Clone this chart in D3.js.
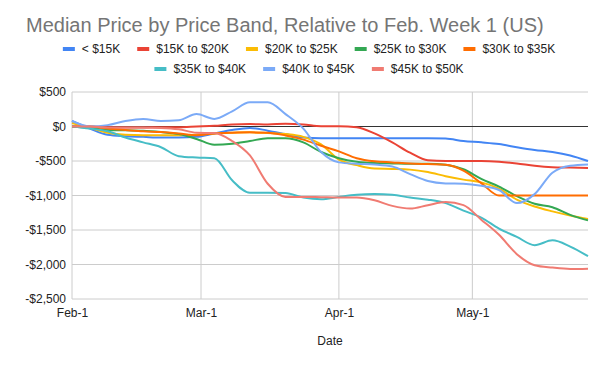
<!DOCTYPE html>
<html>
<head>
<meta charset="utf-8">
<script src="https://cdn.jsdelivr.net/npm/d3@7"></script>
<style>
  body { margin: 0; background: #fff; }
  text { font-family: Arial, "Liberation Sans", sans-serif; }
</style>
</head>
<body>
<svg id="drawing_region"></svg>
<script>
// dates every 4 days, Feb 1 .. May 27 (2020)
const dates = ["2020-02-01","2020-02-05","2020-02-09","2020-02-13","2020-02-17","2020-02-21","2020-02-25","2020-02-29",
  "2020-03-04","2020-03-08","2020-03-12","2020-03-16","2020-03-20","2020-03-24","2020-03-28",
  "2020-04-01","2020-04-05","2020-04-09","2020-04-13","2020-04-17","2020-04-21","2020-04-25","2020-04-29",
  "2020-05-03","2020-05-07","2020-05-11","2020-05-15","2020-05-19","2020-05-23","2020-05-27"];

const bands = ["< $15K","$15K to $20K","$20K to $25K","$25K to $30K","$30K to $35K","$35K to $40K","$40K to $45K","$45K to $50K"];
const colors = ["#4285F4","#EA4335","#FBBC04","#34A853","#FF6D01","#46BDC6","#7BAAF7","#F07B72"];

const under15 = [80,-30,-120,-140,-150,-160,-160,-150,-100,-50,-20,-60,-110,-160,-170,-170,-170,-170,-170,-170,-170,-175,-210,-230,-255,-300,-340,-370,-420,-500];
const b15to20 = [0,0,-10,-15,-15,-10,-10,0,10,30,35,30,40,30,5,5,-10,-100,-230,-380,-490,-500,-500,-500,-510,-535,-570,-590,-595,-600];
const b20to25 = [50,-20,-90,-120,-125,-125,-125,-120,-100,-90,-85,-95,-110,-150,-260,-480,-560,-610,-615,-625,-660,-720,-770,-810,-900,-1060,-1160,-1230,-1290,-1340];
const b25to30 = [0,-20,-50,-55,-60,-80,-110,-180,-265,-250,-210,-170,-170,-230,-370,-460,-510,-530,-535,-540,-540,-555,-620,-760,-870,-1010,-1120,-1170,-1280,-1360];
const b30to35 = [0,0,-30,-50,-70,-80,-100,-125,-100,-90,-85,-90,-130,-190,-280,-360,-460,-505,-520,-535,-545,-555,-640,-820,-1000,-1000,-1000,-1000,-1000,-1000];
const b35to40 = [0,-30,-70,-160,-230,-300,-430,-450,-460,-780,-960,-960,-965,-1030,-1055,-1020,-990,-980,-990,-1030,-1060,-1110,-1220,-1320,-1480,-1600,-1720,-1650,-1740,-1880];
const b40to45 = [80,0,20,80,110,80,90,180,110,220,350,350,180,-30,-370,-520,-540,-550,-580,-690,-790,-825,-830,-860,-920,-1110,-980,-670,-570,-550];
const b45to50 = [0,0,-15,-15,-15,-20,-40,-90,-95,-210,-420,-830,-1020,-1020,-1025,-1030,-1030,-1070,-1150,-1190,-1140,-1095,-1140,-1350,-1570,-1850,-2010,-2045,-2065,-2060];

const yticks = [500,0,-500,-1000,-1500,-2000,-2500];

const series = [under15,b15to20,b20to25,b25to30,b30to35,b35to40,b40to45,b45to50];

class LineChart {
    constructor( config ) {
        this.config = config;
        this.init();
    }
    init() {
        let self = this;
        self.svg = d3.select( self.config.parent )
            .attr('width', self.config.width)
            .attr('height', self.config.height);

        self.chart = self.svg.append('g')
            .attr('transform', `translate(${self.config.margin.left}, ${self.config.margin.top})`);

        self.inner_width = self.config.width - self.config.margin.left - self.config.margin.right;
        self.inner_height = self.config.height - self.config.margin.top - self.config.margin.bottom;

        const parse = d3.timeParse("%Y-%m-%d");
        self.dates = dates.map(parse);

        self.xscale = d3.scaleTime()
            .domain( d3.extent(self.dates) )
            .range( [0, self.inner_width] );
        self.yscale = d3.scaleLinear()
            .domain( [-2500, 500] )
            .range( [self.inner_height, 0] );
    }
    render() {
        let self = this;
        const xticks = d3.timeMonth.range(self.dates[0], self.dates[self.dates.length-1]);

        // grid
        self.chart.append('g').selectAll('line.h')
            .data(yticks).join('line')
            .attr('x1', 0).attr('x2', self.inner_width)
            .attr('y1', d => self.yscale(d)).attr('y2', d => self.yscale(d))
            .attr('stroke', '#cccccc').attr('stroke-width', 1);
        self.chart.append('g').selectAll('line.v')
            .data(xticks).join('line')
            .attr('x1', d => self.xscale(d)).attr('x2', d => self.xscale(d))
            .attr('y1', 0).attr('y2', self.inner_height)
            .attr('stroke', '#cccccc').attr('stroke-width', 1);
        // baseline
        self.chart.append('line')
            .attr('x1', 0).attr('x2', self.inner_width)
            .attr('y1', self.yscale(0)).attr('y2', self.yscale(0))
            .attr('stroke', '#333333').attr('stroke-width', 1);

        // axes
        const yaxis = d3.axisLeft(self.yscale).tickValues(yticks).tickSize(0).tickPadding(6)
            .tickFormat(d => (d < 0 ? "-$" : "$") + d3.format(",")(Math.abs(d)));
        self.chart.append('g').call(yaxis)
            .call(g => g.select('.domain').remove())
            .selectAll('text').attr('font-size', '12px').attr('fill', '#222');
        const xaxis = d3.axisBottom(self.xscale).tickValues(xticks).tickSize(0).tickPadding(9)
            .tickFormat(d3.timeFormat("%b-%-d"));
        self.chart.append('g').attr('transform', `translate(0, ${self.inner_height})`).call(xaxis)
            .call(g => g.select('.domain').remove())
            .selectAll('text').attr('font-size', '12px').attr('fill', '#222');

        // lines
        const line = d3.line()
            .x((d, i) => self.xscale(self.dates[i]))
            .y(d => self.yscale(d))
            .curve(d3.curveMonotoneX);
        self.chart.append('g').selectAll('path')
            .data(series).join('path')
            .attr('d', d => line(d))
            .attr('fill', 'none')
            .attr('stroke', (d, i) => colors[i])
            .attr('stroke-width', 2)
            .attr('stroke-linejoin', 'round');

        // titles
        self.svg.append('text')
            .attr('x', 26).attr('y', 32)
            .attr('font-size', '20px').attr('fill', '#757575')
            .text("Median Price by Price Band, Relative to Feb. Week 1 (US)");
        self.svg.append('text')
            .attr('x', self.config.margin.left + self.inner_width / 2).attr('y', 345)
            .attr('text-anchor', 'middle').attr('font-size', '12px').attr('fill', '#222')
            .text("Date");

        // legend
        const rows = [[0,1,2,3,4],[5,6,7]];
        const rowY = [49, 69];
        rows.forEach((row, r) => {
            const g = self.svg.append('g');
            let x = 0;
            row.forEach(i => {
                const item = g.append('g').attr('transform', `translate(${x},0)`);
                item.append('rect').attr('x', 0).attr('y', -2).attr('width', 12).attr('height', 4)
                    .attr('fill', colors[i]);
                const t = item.append('text').attr('x', 19).attr('y', 4)
                    .attr('font-size', '12px').attr('fill', '#222').text(bands[i]);
                x += 19 + t.node().getComputedTextLength() + 17;
            });
            x -= 17;
            g.attr('transform', `translate(${309 - x / 2}, ${rowY[r]})`);
        });
    }
}

const chart = new LineChart({
    parent: '#drawing_region',
    width: 612,
    height: 373,
    margin: {top: 92, right: 24, bottom: 74, left: 72}
});
chart.render();
</script>
</body>
</html>
